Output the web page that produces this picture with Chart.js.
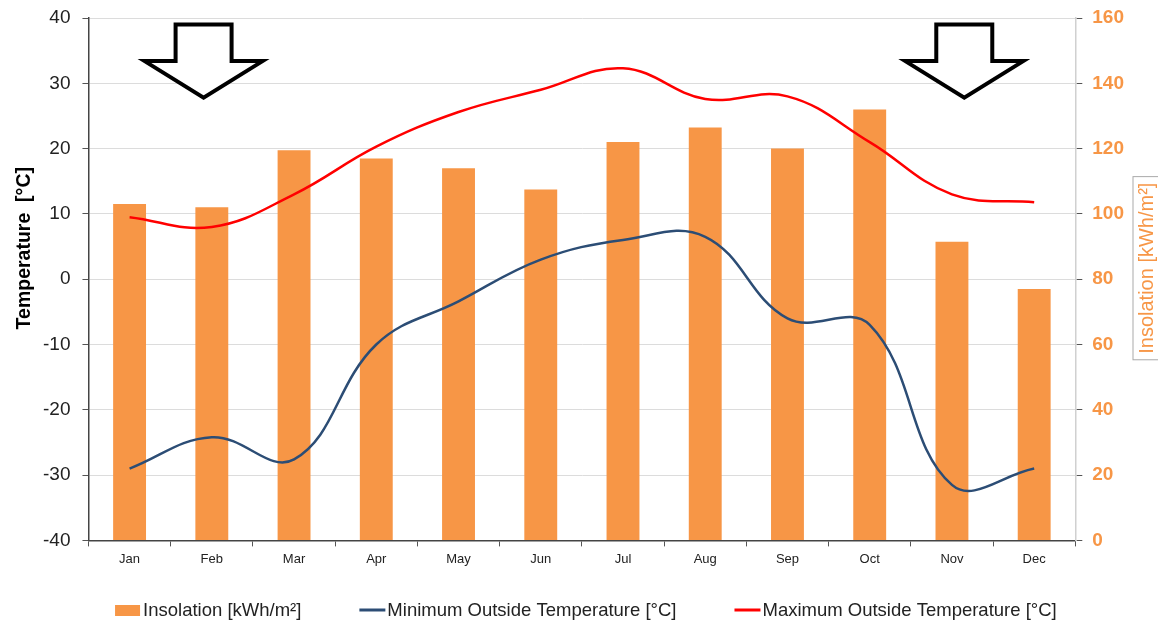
<!DOCTYPE html>
<html>
<head>
<meta charset="utf-8">
<script src="https://cdn.jsdelivr.net/npm/chart.js@4/dist/chart.umd.min.js"></script>
<style>
  html, body { margin: 0; padding: 0; background: #fff; }
  #wrap { width: 1158px; height: 623px; }
</style>
</head>
<body>
<div id="wrap"><canvas id="climateChart"></canvas></div>
<script>
const months = ['Jan', 'Feb', 'Mar', 'Apr', 'May', 'Jun', 'Jul', 'Aug', 'Sep', 'Oct', 'Nov', 'Dec'];
const insolation = [103, 102, 119.5, 117, 114, 107.5, 122, 126.5, 120, 132, 91.5, 77];
const minTemp = [-29, -24.2, -27.6, -10, -3.4, 3, 6, 6.5, -6, -7, -31.5, -29];
const maxTemp = [9.5, 8, 13, 20.3, 25.6, 29, 32.3, 27.6, 28, 21, 13, 11.8];
const tempTicks = [-40, -30, -20, -10, 0, 10, 20, 30, 40];
const insolTicks = [0, 20, 40, 60, 80, 100, 120, 140, 160];
// arrow markers (category position of the tip)
const arrowAt = [0.9, 10.15];

const orange = '#F79646';
const font = '"Liberation Sans", Arial, sans-serif';

// hollow down arrows on top of the plot
const arrowPlugin = {
  id: 'arrows',
  afterDatasetsDraw(chart) {
    const { ctx, scales } = chart;
    const yTop = scales.y.getPixelForValue(39);
    const yShoulder = scales.y.getPixelForValue(33.4);
    const yTip = scales.y.getPixelForValue(27.8);
    arrowAt.forEach((v) => {
      const cx = scales.x.getPixelForValue(v);
      ctx.save();
      ctx.beginPath();
      ctx.moveTo(cx - 28, yTop);
      ctx.lineTo(cx + 28, yTop);
      ctx.lineTo(cx + 28, yShoulder);
      ctx.lineTo(cx + 59, yShoulder);
      ctx.lineTo(cx, yTip);
      ctx.lineTo(cx - 59, yShoulder);
      ctx.lineTo(cx - 28, yShoulder);
      ctx.closePath();
      ctx.fillStyle = '#fff';
      ctx.fill();
      ctx.lineWidth = 4;
      ctx.strokeStyle = '#000';
      ctx.stroke();
      ctx.restore();
    });
  },
};

// axis titles, both reading bottom to top; the right one sits in a thin box
const titlesPlugin = {
  id: 'titles',
  afterDraw(chart) {
    const { ctx, chartArea } = chart;
    const mid = (chartArea.top + chartArea.bottom) / 2;

    ctx.save();
    ctx.translate(25, mid - 31);
    ctx.rotate(-Math.PI / 2);
    ctx.font = 'bold 19.5px ' + font;
    ctx.fillStyle = '#000';
    ctx.textAlign = 'center';
    ctx.textBaseline = 'middle';
    ctx.fillText('Temperature  [°C]', 0, 0);
    ctx.restore();

    const text = 'Insolation [kWh/m²]';
    ctx.save();
    ctx.translate(1146, mid - 11);
    ctx.rotate(-Math.PI / 2);
    ctx.font = '20px ' + font;
    const w = ctx.measureText(text).width;
    ctx.strokeStyle = '#aaa';
    ctx.lineWidth = 1;
    ctx.strokeRect(-w / 2 - 6, -13, w + 12, 26);
    ctx.fillStyle = orange;
    ctx.textAlign = 'center';
    ctx.textBaseline = 'middle';
    ctx.fillText(text, 0, 1);
    ctx.restore();
  },
};

// legend row under the chart, marker right next to its text
const legendPlugin = {
  id: 'legendRow',
  afterDraw(chart) {
    const { ctx, chartArea } = chart;
    const gap = 58;
    const markW = 26;
    ctx.save();
    ctx.font = '18.5px ' + font;
    const items = chart.data.datasets.map((ds) => ({
      ds,
      w: markW + 2 + ctx.measureText(ds.label).width,
    }));
    const total = items.reduce((s, it) => s + it.w, 0) + gap * (items.length - 1);
    let x = (chartArea.left + chartArea.right) / 2 - total / 2 + 4;
    const y = 610;
    items.forEach(({ ds, w }) => {
      if (ds.type === 'bar') {
        ctx.fillStyle = ds.backgroundColor;
        ctx.fillRect(x, y - 5, markW - 1, 11);
      } else {
        ctx.strokeStyle = ds.borderColor;
        ctx.lineWidth = 3;
        ctx.beginPath();
        ctx.moveTo(x, y);
        ctx.lineTo(x + markW, y);
        ctx.stroke();
      }
      ctx.fillStyle = '#222';
      ctx.textBaseline = 'middle';
      ctx.fillText(ds.label, x + markW + 2, y + 1);
      x += w + gap;
    });
    ctx.restore();
  },
};

new Chart(document.getElementById('climateChart'), {
  data: {
    labels: months,
    datasets: [
      {
        type: 'bar',
        label: 'Insolation [kWh/m²]',
        data: insolation,
        yAxisID: 'y1',
        backgroundColor: orange,
        borderWidth: 0,
        barPercentage: 0.8,
        categoryPercentage: 0.5,
        order: 1,
      },
      {
        type: 'line',
        label: 'Minimum Outside Temperature [°C]',
        data: minTemp,
        yAxisID: 'y',
        borderColor: '#2C4D75',
        backgroundColor: '#2C4D75',
        borderWidth: 2.5,
        pointRadius: 0,
        tension: 0.4,
        order: 0,
      },
      {
        type: 'line',
        label: 'Maximum Outside Temperature [°C]',
        data: maxTemp,
        yAxisID: 'y',
        borderColor: '#FF0000',
        backgroundColor: '#FF0000',
        borderWidth: 2.5,
        pointRadius: 0,
        tension: 0.4,
        order: 0,
      },
    ],
  },
  options: {
    responsive: true,
    maintainAspectRatio: false,
    animation: false,
    layout: { padding: { left: 31, right: 24, top: 18, bottom: 51 } },
    plugins: {
      tooltip: { enabled: false },
      legend: { display: false },
    },
    scales: {
      x: {
        offset: true,
        grid: { drawOnChartArea: false, drawTicks: true, tickLength: 6, color: '#555', offset: true },
        border: { color: '#444', width: 1.5 },
        ticks: {
          color: '#222',
          padding: 5,
          font: { family: font, size: 13 },
        },
      },
      y: {
        position: 'left',
        min: -40,
        max: 40,
        afterBuildTicks: (axis) => { axis.ticks = tempTicks.map((v) => ({ value: v })); },
        grid: { color: '#dcdcdc', tickLength: 6, tickColor: '#555' },
        border: { color: '#444', width: 1.5 },
        ticks: {
          color: '#222',
          padding: 12,
          font: { family: font, size: 19, lineHeight: 0.4 },
        },
      },
      y1: {
        position: 'right',
        min: 0,
        max: 160,
        afterBuildTicks: (axis) => { axis.ticks = insolTicks.map((v) => ({ value: v })); },
        grid: { drawOnChartArea: false, tickLength: 7, tickColor: '#555' },
        border: { color: '#d0d0d0', width: 1.5 },
        ticks: {
          color: orange,
          padding: 10,
          font: { family: font, size: 19, weight: 'bold', lineHeight: 0.4 },
        },
      },
    },
  },
  plugins: [arrowPlugin, titlesPlugin, legendPlugin],
});
</script>
</body>
</html>
